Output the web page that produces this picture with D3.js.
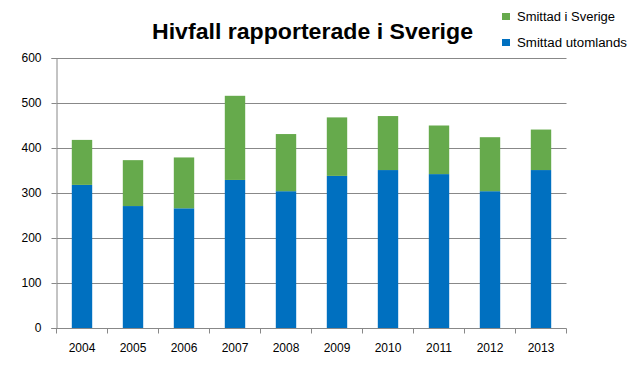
<!DOCTYPE html>
<html><head><meta charset="utf-8">
<script src="https://cdn.jsdelivr.net/npm/d3@7"></script>
<style>body{margin:0;background:#fff}svg{display:block}</style>
</head><body>
<svg id="c" width="636" height="374"></svg>
<script>
const years = ["2004","2005","2006","2007","2008","2009","2010","2011","2012","2013"];
const utomlands = [318, 271, 266, 329, 304, 338, 351, 342, 304, 351];
const sverige = [100, 102, 113, 187, 127, 130, 120, 108, 120, 90];
const yTicks = [0, 100, 200, 300, 400, 500, 600];
const seriesNames = ["Smittad i Sverige", "Smittad utomlands"];
const colors = {utomlands: "#0070C0", sverige: "#66AA4C"};

const svg = d3.select("#c");
const m = {l: 56.5, r: 566.5, t: 58, b: 328};
const x = d3.scaleBand().domain(years).range([m.l, m.r]).paddingInner(0.6).paddingOuter(0.3);
const xb = d3.scaleBand().domain(years).range([m.l, m.r]);
const y = d3.scaleLinear().domain([0, 600]).range([m.b, m.t]);
const font = "'Liberation Sans', Arial, sans-serif";

// gridlines
svg.append("g").selectAll("line").data(yTicks.filter(d => d > 0)).join("line")
  .attr("x1", m.l).attr("x2", m.r)
  .attr("y1", d => Math.round(y(d)) + 0.5).attr("y2", d => Math.round(y(d)) + 0.5)
  .attr("stroke", "#888").attr("stroke-width", 1);

// bars
const rows = years.map((yr, i) => ({yr, u: utomlands[i], s: sverige[i]}));
svg.append("g").selectAll("rect").data(rows).join("rect")
  .attr("x", d => x(d.yr)).attr("width", x.bandwidth())
  .attr("y", d => y(d.u)).attr("height", d => y(0) - y(d.u))
  .attr("fill", colors.utomlands);
svg.append("g").selectAll("rect").data(rows).join("rect")
  .attr("x", d => x(d.yr)).attr("width", x.bandwidth())
  .attr("y", d => y(d.u + d.s)).attr("height", d => y(d.u) - y(d.u + d.s))
  .attr("fill", colors.sverige);

// y axis
const ya = svg.append("g").attr("transform", `translate(${m.l},0)`)
  .call(d3.axisLeft(y).tickValues(yTicks).tickSize(5).tickPadding(10));
ya.select(".domain").attr("stroke", "#888");
ya.selectAll(".tick line").attr("stroke", "#888");
ya.selectAll("text").attr("font-family", font).attr("font-size", 12).attr("fill", "#000");

// x axis
const xa = svg.append("g").attr("transform", `translate(0,${m.b + 0.5})`);
xa.append("line").attr("x1", m.l - 5).attr("x2", m.r).attr("stroke", "#888");
const bounds = years.map(d => xb(d)).concat([m.r]);
xa.selectAll("line.t").data(bounds).join("line").attr("class", "t")
  .attr("x1", d => d).attr("x2", d => d).attr("y1", 0).attr("y2", 5).attr("stroke", "#888");
xa.selectAll("text").data(years).join("text")
  .attr("x", d => xb(d) + xb.bandwidth() / 2).attr("y", 23)
  .attr("text-anchor", "middle").attr("font-family", font).attr("font-size", 12)
  .text(d => d);

// title
svg.append("text").attr("x", 152).attr("y", 39)
  .attr("font-family", font).attr("font-weight", "bold").attr("font-size", 22)
  .attr("textLength", 321).attr("lengthAdjust", "spacingAndGlyphs")
  .text("Hivfall rapporterade i Sverige");

// legend
const leg = svg.append("g");
const legItems = [{n: seriesNames[0], c: colors.sverige, y: 16.5, w: 98}, {n: seriesNames[1], c: colors.utomlands, y: 42.5, w: 110}];
legItems.forEach(d => {
  leg.append("rect").attr("x", 502).attr("y", d.y - 3.5).attr("width", 8).attr("height", 7).attr("fill", d.c);
  leg.append("text").attr("x", 517).attr("y", d.y + 4).attr("font-family", font).attr("font-size", 12)
    .attr("textLength", d.w).attr("lengthAdjust", "spacingAndGlyphs").text(d.n);
});
</script>
</body></html>
